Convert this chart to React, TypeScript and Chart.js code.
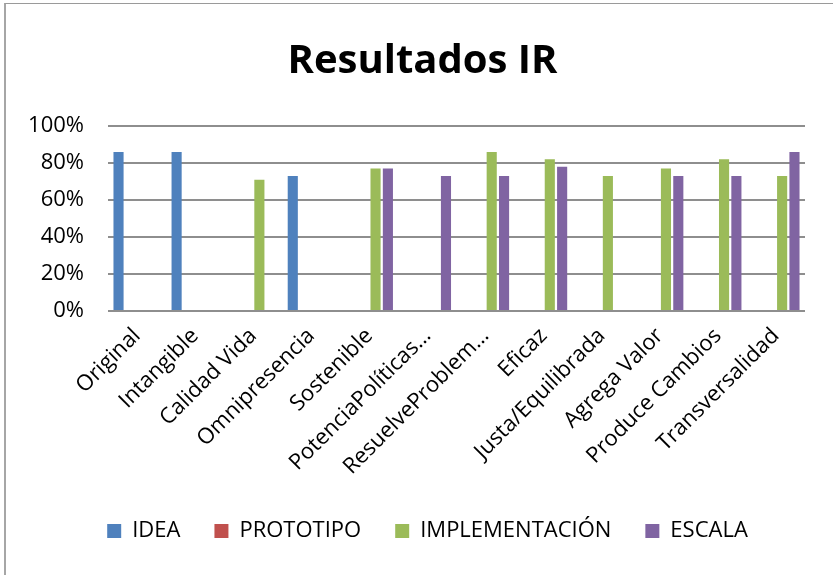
import React, { useEffect, useRef } from "react";
import { Chart, registerables } from "chart.js";

Chart.register(...registerables);

const categories = [
  "Original",
  "Intangible",
  "Calidad Vida",
  "Omnipresencia",
  "Sostenible",
  "PotenciaPolíticas…",
  "ResuelveProblem…",
  "Eficaz",
  "Justa/Equilibrada",
  "Agrega Valor",
  "Produce Cambios",
  "Transversalidad",
];

const seriesNames = ["IDEA", "PROTOTIPO", "IMPLEMENTACIÓN", "ESCALA"];
const ideaValues = [86, 86, null, 73, null, null, null, null, null, null, null, null];
const prototipoValues = [null, null, null, null, null, null, null, null, null, null, null, null];
const implementacionValues = [null, null, 71, null, 77, null, 86, 82, 73, 77, 82, 73];
const escalaValues = [null, null, null, null, 77, 73, 73, 78, null, 73, 73, 86];
const seriesColors = ["#4F81BD", "#C0504D", "#9BBB59", "#8064A2"];

const yTicks = [0, 20, 40, 60, 80, 100];

const FONT = "'Open Sans', 'Noto Sans', sans-serif";

const shiftBoxes = {
  id: "shiftBoxes",
  afterLayout(chart: any) {
    if (chart.legend) {
      chart.legend.left += 25;
      chart.legend.right += 25;
    }
    if (chart.titleBlock) {
      chart.titleBlock.left += 20;
      chart.titleBlock.right += 20;
    }
  },
};

export default function App() {
  const canvasRef = useRef<HTMLCanvasElement | null>(null);

  useEffect(() => {
    const canvas = canvasRef.current;
    if (!canvas) return;
    const values = [ideaValues, prototipoValues, implementacionValues, escalaValues];
    const chart = new Chart(canvas, {
      type: "bar",
      data: {
        labels: categories,
        datasets: seriesNames.map((name, i) => ({
          label: name,
          data: values[i] as any,
          backgroundColor: seriesColors[i],
          borderWidth: 0,
          categoryPercentage: 0.85,
          barPercentage: 0.82,
        })),
      },
      plugins: [shiftBoxes],
      options: {
        animation: false,
        responsive: false,
        devicePixelRatio: 1,
        layout: { padding: { left: 0, right: 28, top: 0, bottom: 23 } },
        plugins: {
          tooltip: { enabled: false },
          title: {
            display: true,
            text: "Resultados IR",
            color: "#000",
            font: { family: FONT, size: 40, weight: "bold", lineHeight: 1.2 },
            padding: { top: 38, bottom: 40 },
          },
          legend: {
            position: "bottom",
            labels: {
              color: "#000",
              font: { family: FONT, size: 22 },
              boxWidth: 14,
              boxHeight: 14,
              padding: 34,
            },
          },
        },
        scales: {
          x: {
            grid: { display: false },
            border: { display: false },
            ticks: {
              color: "#000",
              font: { family: FONT, size: 22 },
              minRotation: 45,
              maxRotation: 45,
              autoSkip: false,
              padding: 4,
            },
            afterFit: (scale: any) => {
              scale.height = 175;
            },
          },
          y: {
            min: 0,
            max: 100,
            afterBuildTicks: (scale: any) => {
              scale.ticks = yTicks.map((v) => ({ value: v }));
            },
            grid: { color: "#8e8e8e", lineWidth: 2, drawTicks: false },
            border: { display: false },
            ticks: {
              color: "#000",
              font: { family: FONT, size: 22 },
              padding: 24,
              callback: (v: any) => `${v}%`,
            },
            afterFit: (scale: any) => {
              scale.width = 108;
            },
          },
        },
      },
    });
    return () => chart.destroy();
  }, []);

  return (
    <div style={{ position: "absolute", left: 0, top: 0, width: 833, height: 575, background: "#fff", overflow: "hidden" }}>
      <div
        style={{
          position: "absolute",
          left: 4,
          top: 3,
          width: 900,
          height: 700,
          borderLeft: "2px solid #a6a6a6",
          borderTop: "1px solid #9a9a9a",
        }}
      />
      <canvas ref={canvasRef} width={833} height={575} style={{ position: "absolute", left: 0, top: 0 }} />
    </div>
  );
}
